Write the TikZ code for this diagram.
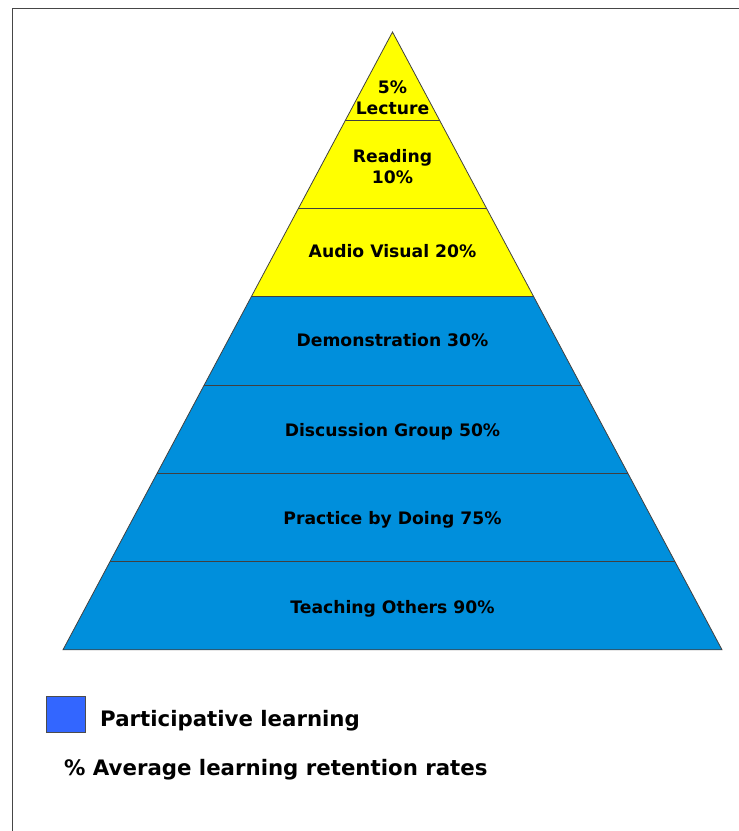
\documentclass[tikz,border=0pt]{standalone}
\usepackage{fontspec}
\setmainfont{DejaVu Sans}
\definecolor{pyel}{RGB}{255,255,0}
\definecolor{pblue}{RGB}{0,143,220}
\definecolor{legblue}{RGB}{51,102,255}
\definecolor{frame}{RGB}{70,70,70}
\tikzset{
  level/.style={draw=black!75, line width=0.8pt, line join=miter},
  lbl/.style={font=\bfseries\fontsize{17.2}{21}\selectfont, align=center, inner sep=0pt},
  leg/.style={font=\bfseries\fontsize{21.3}{25}\selectfont, anchor=west, inner sep=0pt}
}
\begin{document}
\begin{tikzpicture}[x=1pt,y=-1pt]
\useasboundingbox (0,0) rectangle (739,831);
% frame
\draw[frame, line width=1pt] (12,831) -- (12,8) -- (739,8);
% levels: y_i = 32 + 88.25 i, half width = (y-32)*0.5332
\def\cx{392.5}
\foreach \i/\col in {0/pyel,1/pyel,2/pyel,3/pblue,4/pblue,5/pblue,6/pblue}{
  \pgfmathsetmacro{\ya}{32+88.25*\i}
  \pgfmathsetmacro{\yb}{32+88.25*(\i+1)}
  \pgfmathsetmacro{\wa}{(\ya-32)*0.5332}
  \pgfmathsetmacro{\wb}{(\yb-32)*0.5332}
  \fill[\col] (\cx-\wa,\ya) -- (\cx+\wa,\ya) -- (\cx+\wb,\yb) -- (\cx-\wb,\yb) -- cycle;
}
\draw[level] (\cx,32) -- (\cx+329.5,649.75) -- (\cx-329.5,649.75) -- cycle;
\foreach \i in {1,...,6}{
  \pgfmathsetmacro{\ya}{32+88.25*\i}
  \pgfmathsetmacro{\wa}{(\ya-32)*0.5332}
  \draw[level] (\cx-\wa,\ya) -- (\cx+\wa,\ya);
}
% labels
\node[lbl] (lec) at (\cx,98) {5\%\\Lecture};
\node[lbl] (rea) at (\cx,167) {Reading\\10\%};
\node[lbl] (aud) at (\cx,251.5) {Audio Visual 20\%};
\node[lbl] (dem) at (\cx,340.5) {Demonstration 30\%};
\node[lbl] (dis) at (\cx,431.5) {Discussion Group 50\%};
\node[lbl] (pra) at (\cx,519.5) {Practice by Doing 75\%};
\node[lbl] (tea) at (\cx,608.5) {Teaching Others 90\%};
% legend
\draw[black!70, fill=legblue, line width=0.8pt] (46.5,696) rectangle (85,732) coordinate (sq);
\node[leg] (part) at (100,721) {Participative learning};
\node[leg] (avg) at (64,769.5) {\% Average learning retention rates};
\end{tikzpicture}
\end{document}
